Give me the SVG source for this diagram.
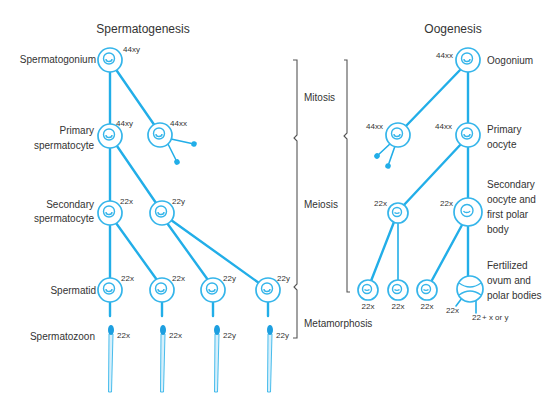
<svg xmlns="http://www.w3.org/2000/svg" width="546" height="394" viewBox="0 0 546 394">
  <defs>
    <style>
      .lbl { font-family: "Liberation Sans", Arial, sans-serif; font-size: 10px; fill: #333; }
      .ttl { font-family: "Liberation Sans", Arial, sans-serif; font-size: 12px; fill: #333; }
      .num { font-family: "Liberation Sans", Arial, sans-serif; font-size: 8px; fill: #333; }
      .edge { stroke: #22aee8; stroke-width: 2.4; fill: none; stroke-linecap: round; }
      .thin { stroke: #22aee8; stroke-width: 1.6; fill: none; stroke-linecap: round; }
      .cell-o { fill: #ffffff; stroke: #35b5ea; stroke-width: 1.7; }
      .cell-i { fill: none; stroke: #35b5ea; stroke-width: 1.4; }
      .brk { stroke: #555; stroke-width: 1.1; fill: none; }
      .head { fill: #1d9fe0; }
      .tail { fill: #d6effb; stroke: #35b5ea; stroke-width: 0.9; }
    </style>
    <marker id="dot" viewBox="0 0 6 6" refX="3" refY="3" markerWidth="4" markerHeight="4" orient="auto">
      <circle cx="3" cy="3" r="2.6" fill="#22aee8"/>
    </marker>
    <g id="cell">
      <circle class="cell-o" r="12"/>
      <circle class="cell-i" cx="-1" cy="-1.5" r="5.5"/>
      <path class="cell-i" d="M-4 -1 A3 2.5 0 0 0 2 -1"/>
    </g>
    <g id="cell-sm">
      <circle class="cell-o" r="10"/>
      <circle class="cell-i" cx="-1" cy="-1" r="4.5"/>
      <path class="cell-i" d="M-3.5 -0.5 A3 2 0 0 0 1.5 -0.5"/>
    </g>
    <g id="sperm">
      <path class="tail" d="M-2 4 L-2.5 62 L0.5 62 L2 4 Z"/>
      <ellipse class="head" cx="0" cy="0" rx="3" ry="5"/>
    </g>
  </defs>

  <!-- titles -->
  <text class="ttl" x="143" y="33" text-anchor="middle">Spermatogenesis</text>
  <text class="ttl" x="453" y="33" text-anchor="middle">Oogenesis</text>

  <!-- connectors -->
  <g id="connectors">
    <!-- spermatogenesis -->
    <line class="edge" x1="110" y1="72" x2="110" y2="124"/>
    <line class="edge" x1="117" y1="71" x2="155" y2="126"/>
    <line class="edge" x1="110" y1="148" x2="110" y2="201"/>
    <line class="edge" x1="117" y1="146" x2="156" y2="203"/>
    <line class="edge" x1="110" y1="225" x2="110" y2="278"/>
    <line class="edge" x1="116" y1="223" x2="157" y2="280"/>
    <line class="edge" x1="167" y1="223" x2="208" y2="280"/>
    <line class="edge" x1="171" y1="220" x2="259" y2="283"/>
    <line class="edge" x1="110" y1="302" x2="110" y2="316"/>
    <line class="edge" x1="162" y1="302" x2="162" y2="316"/>
    <line class="edge" x1="213" y1="302" x2="213" y2="316"/>
    <line class="edge" x1="268" y1="302" x2="268" y2="316"/>
    <!-- 44xx offshoots -->
    <line class="thin" x1="171" y1="139" x2="194" y2="144" marker-end="url(#dot)"/>
    <line class="thin" x1="168" y1="144" x2="177" y2="162" marker-end="url(#dot)"/>
    <!-- oogenesis -->
    <line class="edge" x1="468" y1="72" x2="468" y2="123"/>
    <line class="edge" x1="461" y1="69" x2="405" y2="127"/>
    <line class="edge" x1="468" y1="147" x2="468" y2="198"/>
    <line class="edge" x1="462" y1="143" x2="403" y2="206"/>
    <line class="edge" x1="468" y1="226" x2="468" y2="278"/>
    <line class="edge" x1="462" y1="225" x2="431" y2="282"/>
    <line class="thin" x1="398" y1="222" x2="398" y2="281"/>
    <line class="edge" x1="394" y1="222" x2="371" y2="281"/>
    <line class="thin" x1="391" y1="143" x2="377" y2="156" marker-end="url(#dot)"/>
    <line class="thin" x1="395" y1="146" x2="388" y2="166" marker-end="url(#dot)"/>
    <line class="thin" x1="462" y1="298" x2="456" y2="306"/>
    <line class="thin" x1="476" y1="300" x2="476" y2="313"/>
  </g>

  <!-- brackets -->
  <g id="brackets">
    <path class="brk" d="M293 60 H297 V135 L294 138 L297 141 V284 L294 287 L297 290 V338 H293"/>
    <path class="brk" d="M344 60 H347 V133 L344 136 L347 139 V292 H350"/>
  </g>

  <!-- spermatogenesis nodes -->
  <g id="spermatogonium">
    <use href="#cell" x="110" y="60"/>
    <text class="lbl" x="96" y="63" text-anchor="end">Spermatogonium</text>
    <text class="num" x="123" y="52">44xy</text>
  </g>
  <g id="primary-spermatocyte">
    <use href="#cell" x="110" y="136"/>
    <text class="lbl" x="94" y="134" text-anchor="end">Primary</text>
    <text class="lbl" x="94" y="149" text-anchor="end">spermatocyte</text>
    <text class="num" x="116" y="126">44xy</text>
  </g>
  <g id="spermatogonium-2">
    <use href="#cell" x="160" y="135"/>
    <text class="num" x="170" y="126">44xx</text>
  </g>
  <g id="secondary-spermatocyte-x">
    <use href="#cell" x="110" y="213"/>
    <text class="lbl" x="94" y="208" text-anchor="end">Secondary</text>
    <text class="lbl" x="94" y="222" text-anchor="end">spermatocyte</text>
    <text class="num" x="120" y="204">22x</text>
  </g>
  <g id="secondary-spermatocyte-y">
    <use href="#cell" x="162" y="213"/>
    <text class="num" x="172" y="204">22y</text>
  </g>
  <g id="spermatid-1">
    <use href="#cell" x="110" y="290"/>
    <text class="lbl" x="96" y="294" text-anchor="end">Spermatid</text>
    <text class="num" x="121" y="281">22x</text>
  </g>
  <g id="spermatid-2">
    <use href="#cell" x="162" y="290"/>
    <text class="num" x="172" y="281">22x</text>
  </g>
  <g id="spermatid-3">
    <use href="#cell" x="213" y="290"/>
    <text class="num" x="223" y="281">22y</text>
  </g>
  <g id="spermatid-4">
    <use href="#cell" x="268" y="290"/>
    <text class="num" x="277" y="281">22y</text>
  </g>
  <g id="spermatozoon-1">
    <use href="#sperm" x="111" y="330"/>
    <text class="lbl" x="95" y="340" text-anchor="end">Spermatozoon</text>
    <text class="num" x="117" y="338">22x</text>
  </g>
  <g id="spermatozoon-2">
    <use href="#sperm" x="163" y="330"/>
    <text class="num" x="169" y="338">22x</text>
  </g>
  <g id="spermatozoon-3">
    <use href="#sperm" x="217" y="330"/>
    <text class="num" x="223" y="338">22y</text>
  </g>
  <g id="spermatozoon-4">
    <use href="#sperm" x="270" y="330"/>
    <text class="num" x="276" y="338">22y</text>
  </g>

  <!-- phase labels -->
  <text class="lbl" x="304" y="101">Mitosis</text>
  <text class="lbl" x="304" y="208">Meiosis</text>
  <text class="lbl" x="304" y="327">Metamorphosis</text>

  <!-- oogenesis nodes -->
  <g id="oogonium">
    <use href="#cell" x="468" y="60"/>
    <text class="num" x="453" y="58" text-anchor="end">44xx</text>
    <text class="lbl" x="487" y="64">Oogonium</text>
  </g>
  <g id="primary-oocyte">
    <use href="#cell" x="468" y="135"/>
    <text class="num" x="452" y="129" text-anchor="end">44xx</text>
    <text class="lbl" x="487" y="133">Primary</text>
    <text class="lbl" x="487" y="148">oocyte</text>
  </g>
  <g id="oogonium-2">
    <use href="#cell" x="398" y="135"/>
    <text class="num" x="383" y="129" text-anchor="end">44xx</text>
  </g>
  <g id="first-polar-body">
    <use href="#cell-sm" x="398" y="213"/>
    <text class="num" x="387" y="206" text-anchor="end">22x</text>
  </g>
  <g id="secondary-oocyte">
    <circle class="cell-o" cx="468" cy="212" r="14"/>
    <circle class="cell-i" cx="467" cy="210.5" r="6"/>
    <path class="cell-i" d="M463.5 211 A3.5 2.5 0 0 0 470 211"/>
    <text class="num" x="453" y="206" text-anchor="end">22x</text>
    <text class="lbl" x="487" y="188">Secondary</text>
    <text class="lbl" x="487" y="203">oocyte and</text>
    <text class="lbl" x="487" y="218">first polar</text>
    <text class="lbl" x="487" y="233">body</text>
  </g>
  <g id="polar-body-1">
    <use href="#cell-sm" x="368" y="290"/>
    <text class="num" x="368" y="309" text-anchor="middle">22x</text>
  </g>
  <g id="polar-body-2">
    <use href="#cell-sm" x="398" y="290"/>
    <text class="num" x="398" y="309" text-anchor="middle">22x</text>
  </g>
  <g id="polar-body-3">
    <use href="#cell-sm" x="427" y="290"/>
    <text class="num" x="427" y="309" text-anchor="middle">22x</text>
  </g>
  <g id="fertilized-ovum">
    <circle class="cell-o" cx="470" cy="289" r="13"/>
    <path class="cell-i" d="M459 283 Q470 291 481 283 M459 295 Q470 287 481 295"/>
    <text class="num" x="446" y="313">22x</text>
    <text class="num" x="472" y="320">22</text>
    <text class="num" x="482" y="320">+ x or y</text>
    <text class="lbl" x="487" y="269">Fertilized</text>
    <text class="lbl" x="487" y="284">ovum and</text>
    <text class="lbl" x="487" y="299">polar bodies</text>
  </g>
</svg>
